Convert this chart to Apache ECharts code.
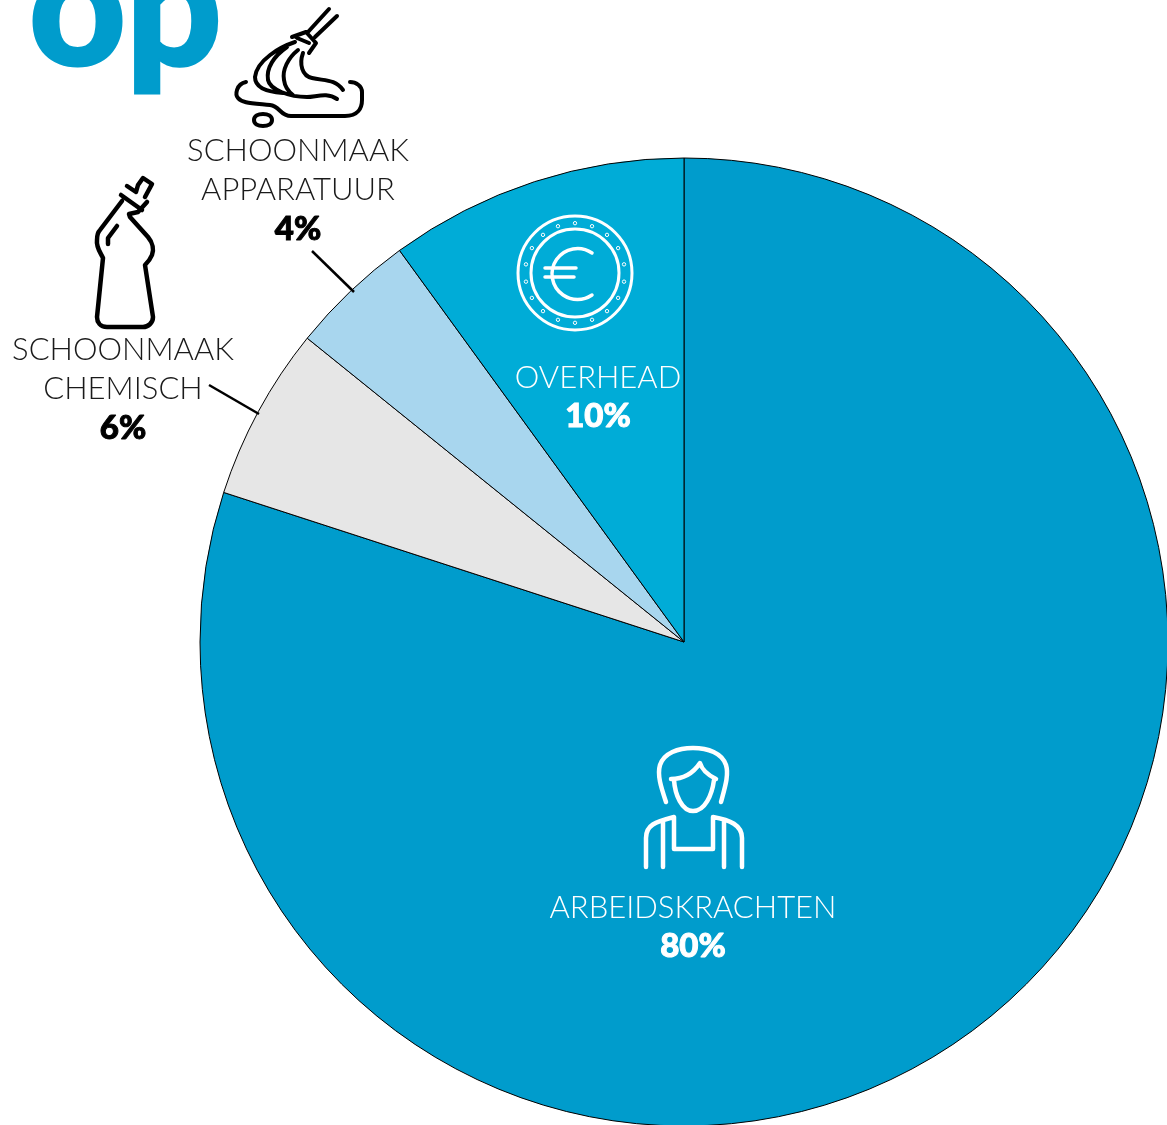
<!DOCTYPE html>
<html><head><meta charset="utf-8">
<style>html,body{margin:0;padding:0;background:#fff;overflow:hidden}#c{width:1167px;height:1125px}</style>
<script src="https://cdn.jsdelivr.net/npm/echarts@6/dist/echarts.min.js"></script>
</head><body><div id="c"></div>
<script>
const categories = ['ARBEIDSKRACHTEN', 'SCHOONMAAK\nCHEMISCH', 'SCHOONMAAK\nAPPARATUUR', 'OVERHEAD'];
const shares = [80, 5.8, 4.2, 10];
const shareLabels = ['80%', '6%', '4%', '10%'];
const sliceColors = ['#009ccc', '#e6e6e6', '#a8d6ee', '#00acd7'];
const labelColors = ['#ffffff', '#1a1a1a', '#1a1a1a', '#ffffff'];
const shareColors = ['#ffffff', '#000000', '#000000', '#ffffff'];
const labelAnchors = [[693, 927], [123, 389], [298, 190], [598, 397]];

const FONT = 'Lato';
const chart = echarts.init(document.getElementById('c'), null, {renderer: 'canvas'});

const mop = 'M329 9L308 32M337 16L315 37M292 37L306 32L316 43L309 53M297 38L309 43' +
  'M295 42C280 47 257 60 255 77C255 88 268 92 283 93' +
  'M287 47C274 56 266 68 268 80C270 90 290 97 307 97C316 97 327 92 337 99' +
  'M298 50C288 58 282 70 284 80C285 88 289 92 293 95' +
  'M303 53C299 64 302 76 312 78C325 81 335 79 343 90' +
  'M246 82C236 84 235 95 238 98C242 103 250 103 270 105C280 106 280 116 291 116L345 116C358 116 362 108 362 100L362 92C362 86 356 82 350 82' +
  'M254 120C254 116 258 114 263 114C268 114 272 116 272 120C272 124 268 126 263 126C258 126 254 124 254 120Z';
const bottle = 'M127 186L136 192L138 185L143 178L152 184L145 197M121 195L142 210' +
  'M147 202L138 212L129 214L130 217L148 237C153 243 154 250 152 255C150 260 147 263 145 265L153 317C153 323 148 327 143 327L107 327C100 327 97 322 97 317L103 258C100 252 96 247 97 240C97 235 98 232 100 230L122 201' +
  'M117 226L108 238L108 244';
const euro = 'M592 253A25.5 25.5 0 1 0 592 295M545 268L576 268M545 277L574 277';
const person = 'M666 802C661 787 657 775 660 765C664 753 678 748 693 748C708 748 722 753 726 765C729 775 725 787 721 802' +
  'M671 779C685 779 694 772 700 763C702 770 710 776 716 779' +
  'M674 780C675 795 682 811 693 811C705 811 712 795 714 780' +
  'M646 867L646 838C646 825 655 822 674 817L674 849L713 849L713 817C730 820 742 825 742 838L742 867' +
  'M663 867L663 821M724 867L724 821';
const icons = [[mop, '#000', 4], [bottle, '#000', 4.5], [euro, '#fff', 3.5], [person, '#fff', 4.5]];

const coinDots = [];
for (let i = 0; i < 18; i++) {
  const a = i * Math.PI / 9;
  coinDots.push({type: 'circle', silent: true, z: 10,
    shape: {cx: 575 + 49.8 * Math.sin(a), cy: 273 - 49.8 * Math.cos(a), r: 1.7},
    style: {fill: 'none', stroke: '#fff', lineWidth: 1}});
}

const graphic = [
  {type: 'text', silent: true, z: 10, x: 29, y: 11,
    style: {text: 'op', fill: '#009ccc', stroke: '#009ccc', lineWidth: 3, font: '900 168px ' + FONT, verticalAlign: 'middle'}},
  {type: 'circle', silent: true, z: 10, shape: {cx: 575, cy: 273, r: 57}, style: {fill: 'none', stroke: '#fff', lineWidth: 3}},
  {type: 'circle', silent: true, z: 10, shape: {cx: 575, cy: 273, r: 44}, style: {fill: 'none', stroke: '#fff', lineWidth: 3}},
  ...coinDots,
  {type: 'line', silent: true, z: 10, shape: {x1: 312, y1: 251, x2: 354, y2: 292}, style: {stroke: '#000', lineWidth: 2.5}},
  {type: 'line', silent: true, z: 10, shape: {x1: 209, y1: 385, x2: 259, y2: 414}, style: {stroke: '#000', lineWidth: 2.5}}
];

chart.setOption({
  animation: false,
  backgroundColor: '#fff',
  graphic,
  series: [{
    type: 'pie',
    silent: true,
    center: [684, 642],
    radius: [0, 484],
    startAngle: 90,
    clockwise: true,
    z: 1,
    data: categories.map((name, i) => ({
      name, value: shares[i],
      itemStyle: {color: sliceColors[i]},
      label: {
        formatter: name.split('\n').map(s => '{n|' + s + '}').join('\n') + '\n{p|' + shareLabels[i] + '}',
        overflow: 'none',
        width: 400,
        rich: {
          n: {fontFamily: FONT, fontWeight: 300, fontSize: 31, color: labelColors[i], lineHeight: 39, align: 'center'},
          p: {fontFamily: FONT, fontWeight: 900, fontSize: 33, color: shareColors[i], lineHeight: 39, align: 'center', textBorderColor: shareColors[i], textBorderWidth: 1}
        }
      }
    })),
    itemStyle: {borderColor: '#000', borderWidth: 1},
    label: {show: true, position: 'outside', overflow: 'none'},
    labelLine: {show: false},
    labelLayout: p => ({x: labelAnchors[p.dataIndex][0], y: labelAnchors[p.dataIndex][1], align: 'center', verticalAlign: 'middle'})
  }, {
    type: 'custom',
    coordinateSystem: 'none',
    silent: true,
    z: 6,
    data: icons.map((_, i) => i),
    renderItem: (params) => {
      const ic = icons[params.dataIndex];
      return {type: 'path', shape: {pathData: ic[0]},
        style: {fill: 'none', stroke: ic[1], lineWidth: ic[2], lineCap: 'round', lineJoin: 'round'}};
    }
  }]
});
</script></body></html>
